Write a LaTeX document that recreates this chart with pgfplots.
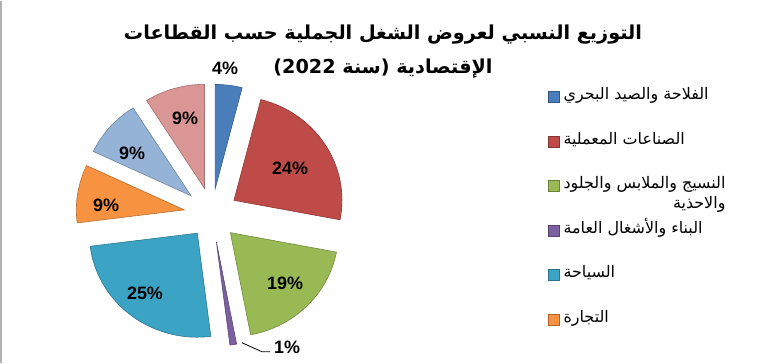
\documentclass[border=0pt]{standalone}
\usepackage{fontspec}
\setmainfont{Liberation Sans}
\newfontfamily\arabicfont[Script=Arabic]{DejaVu Sans}
\TeXXeTstate=1
\usepackage{pgfplots}
\usepackage{pgfplotstable}
\pgfplotsset{compat=1.18}

\definecolor{sl0}{HTML}{4A7EBB}
\definecolor{sl1}{HTML}{BE4B48}
\definecolor{sl2}{HTML}{98B954}
\definecolor{sl3}{HTML}{7D60A0}
\definecolor{sl4}{HTML}{3BA3C3}
\definecolor{sl5}{HTML}{F69240}
\definecolor{sl6}{HTML}{95B3D7}
\definecolor{sl7}{HTML}{D99694}

% value (%), explode distance, label position (px)
\pgfplotstableread{
val ex lx ly
4 26 225 68
24 26 290 168
19 26 285 283
1 28 287 347
25 24 145 293
9 28 106 205
9 28 132 153
9 27 185 118
}\piedata

\newcommand\pctfont{\bfseries\fontsize{18}{20}\selectfont}

\pgfplotsset{myleg/.style={legend image code/.code={\draw[##1] (0bp,-5.5bp) rectangle (11bp,5.5bp);}}}

\begin{document}
\begin{tikzpicture}
\begin{axis}[
  width=768bp, height=362bp, scale only axis,
  xmin=0, xmax=768, ymin=0, ymax=362, y dir=reverse,
  hide axis, clip=false,
  legend cell align=left,
  legend style={at={(axis description cs:0.7096,0.7597)}, anchor=north west,
    draw=none, fill=none, row sep=30.5bp, column sep=3bp,
    font=\arabicfont\fontsize{16}{19}\selectfont,
    nodes={inner sep=1bp, text height=9bp, text depth=3bp}},
]
\path (axis cs:0,0) rectangle (axis cs:768,362);
\draw[gray!60, line width=1.5bp] (axis cs:0.75,0) -- (axis cs:0.75,362);

\xdef\cum{0}
\pgfplotsforeachungrouped \i in {0,...,7}{%
  \pgfplotstablegetelem{\i}{val}\of\piedata \edef\v{\pgfplotsretval}%
  \pgfplotstablegetelem{\i}{ex}\of\piedata \edef\ex{\pgfplotsretval}%
  \pgfplotstablegetelem{\i}{lx}\of\piedata \edef\lx{\pgfplotsretval}%
  \pgfplotstablegetelem{\i}{ly}\of\piedata \edef\ly{\pgfplotsretval}%
  \pgfmathsetmacro\a{90-3.6*\cum}%
  \pgfmathsetmacro\b{90-3.6*(\cum+\v)}%
  \pgfmathsetmacro\m{(\a+\b)/2}%
  \pgfmathsetmacro\cx{212+\ex*cos(\m)}%
  \pgfmathsetmacro\cy{213.5-\ex*sin(\m)}%
  \edef\doit{\noexpand\fill[sl\i, draw=sl\i!75!black, line width=0.6bp]
     (axis cs:\cx,\cy) -- ++(\a:108bp and 104bp)
     arc[start angle=\a, end angle=\b, x radius=108bp, y radius=104bp] -- cycle;
     \noexpand\node[font=\noexpand\pctfont] at (axis cs:\lx,\ly) {\v\noexpand\%};}%
  \doit
  \pgfmathparse{\cum+\v}\xdef\cum{\pgfmathresult}%
}
\draw[black, line width=0.8bp] (axis cs:242,342) -- (axis cs:262,351) -- (axis cs:270,351);

\node[font=\arabicfont\bfseries\fontsize{19.3}{22}\selectfont] at (axis cs:383,34)
  {\beginR التوزيع النسبي لعروض الشغل الجملية حسب  القطاعات\endR};
\node[font=\arabicfont\bfseries\fontsize{19.3}{22}\selectfont] at (axis cs:383,68)
  {\beginR الإقتصادية (سنة \beginL 2022\endL)\endR};

\addlegendimage{myleg, fill=sl0, draw=sl0!70!black}
\addlegendentry{\beginR الفلاحة والصيد البحري\endR}
\addlegendimage{myleg, fill=sl1, draw=sl1!70!black}
\addlegendentry{\beginR الصناعات المعملية\endR}
\addlegendimage{myleg, fill=sl2, draw=sl2!70!black}
\addlegendentry{\smash{\begin{tabular}[t]{@{}r@{}}\beginR النسيج والملابس والجلود\endR\\[1bp] \beginR والاحذية\endR\end{tabular}}}
\addlegendimage{myleg, fill=sl3, draw=sl3!70!black}
\addlegendentry{\beginR البناء والأشغال العامة\endR}
\addlegendimage{myleg, fill=sl4, draw=sl4!70!black}
\addlegendentry{\beginR السياحة\endR}
\addlegendimage{myleg, fill=sl5, draw=sl5!70!black}
\addlegendentry{\beginR التجارة\endR}
\end{axis}
\end{tikzpicture}
\end{document}
